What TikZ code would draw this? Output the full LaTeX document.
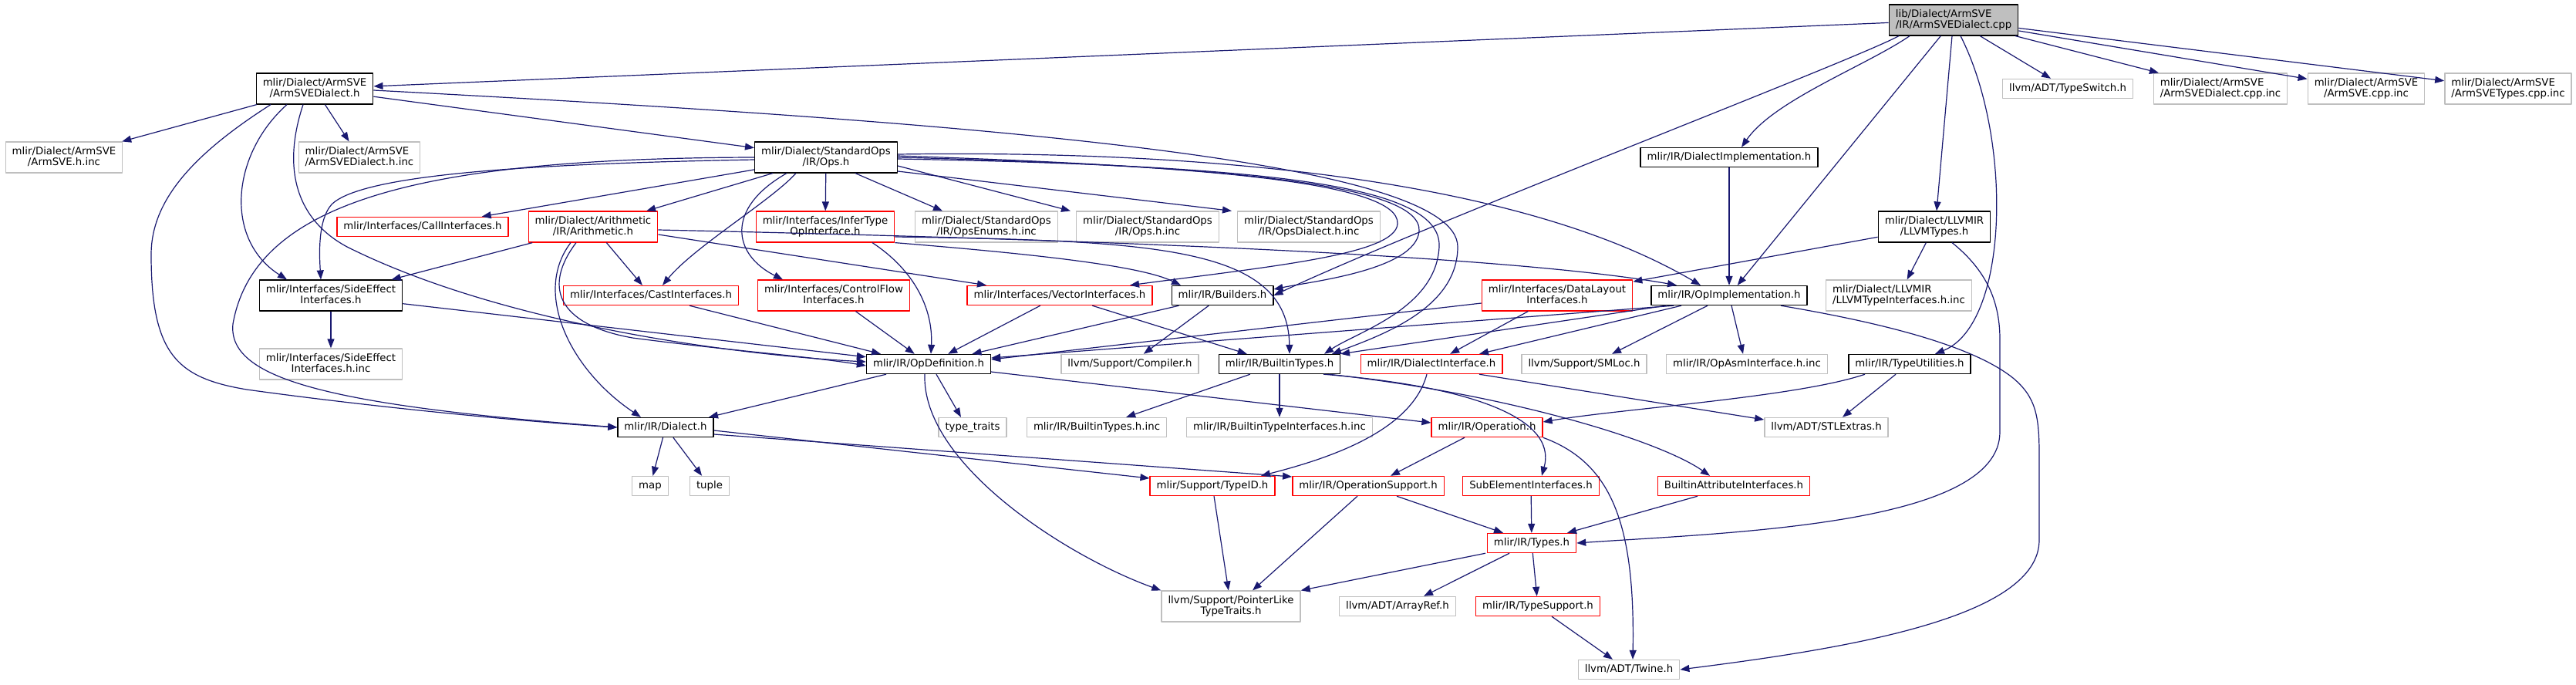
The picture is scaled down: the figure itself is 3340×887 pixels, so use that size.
\documentclass[tikz,border=0pt]{standalone}
\usepackage{fontspec}
\setmainfont{DejaVu Sans}
\usetikzlibrary{arrows.meta}

\definecolor{edgeblue}{HTML}{191970}
\definecolor{grey75}{HTML}{BFBFBF}

% two line label: first line left, second line centred
\newsavebox\lbla
\newsavebox\lblb
\newcommand\lbl[2]{%
  \sbox\lbla{\rule{0pt}{10pt}#1}%
  \sbox\lblb{\rule[-3pt]{0pt}{3pt}#2}%
  \ifdim\wd\lbla<\wd\lblb
    \sbox\lbla{\makebox[\wd\lblb][l]{\usebox\lbla}}%
  \else
    \sbox\lblb{\makebox[\wd\lbla][c]{\usebox\lblb}}%
  \fi
  \vbox{\copy\lbla\copy\lblb}}

\begin{document}
\begin{tikzpicture}[x=1pt, y=-1pt, font=\fontsize{13.3}{14.7}\selectfont, line join=round, >={Triangle[length=12pt,width=9pt]},
	fnode/.style={draw, rectangle, line width=1.4pt, inner xsep=8.5pt, inner ysep=6pt},
	oneline/.style={fnode, text height=10pt, text depth=3pt},
	twoline/.style={fnode},
	doc/.style={draw=black},
	trunc/.style={draw=red},
	sys/.style={draw=grey75},
	src/.style={draw=black, fill=grey75},
	incl/.style={->, draw=edgeblue, line width=1.2pt}]
	\useasboundingbox (0,0) rectangle (3340,887);

	% row 1
	\node[twoline, src] (cpp) at (2533,26) {\lbl{lib/Dialect/ArmSVE}{/IR/ArmSVEDialect.cpp}};
	% row 2
	\node[twoline, doc] (armdh) at (408,115) {\lbl{mlir/Dialect/ArmSVE}{/ArmSVEDialect.h}};
	\node[oneline, sys] (typeswitch) at (2681,115) {llvm/ADT/TypeSwitch.h};
	\node[twoline, sys] (armdcppinc) at (2879,115) {\lbl{mlir/Dialect/ArmSVE}{/ArmSVEDialect.cpp.inc}};
	\node[twoline, sys] (armcppinc) at (3068,115) {\lbl{mlir/Dialect/ArmSVE}{/ArmSVE.cpp.inc}};
	\node[twoline, sys] (armtcppinc) at (3252,115) {\lbl{mlir/Dialect/ArmSVE}{/ArmSVETypes.cpp.inc}};
	% row 3
	\node[twoline, sys] (armhinc) at (83,204) {\lbl{mlir/Dialect/ArmSVE}{/ArmSVE.h.inc}};
	\node[twoline, sys] (armdhinc) at (466,204) {\lbl{mlir/Dialect/ArmSVE}{/ArmSVEDialect.h.inc}};
	\node[twoline, doc] (ops) at (1071,204) {\lbl{mlir/Dialect/StandardOps}{/IR/Ops.h}};
	\node[oneline, doc] (dimpl) at (2242,204) {mlir/IR/DialectImplementation.h};
	% row 4
	\node[oneline, trunc] (callif) at (548,294) {mlir/Interfaces/CallInterfaces.h};
	\node[twoline, trunc] (arith) at (769,294) {\lbl{mlir/Dialect/Arithmetic}{/IR/Arithmetic.h}};
	\node[twoline, trunc] (infer) at (1070,294) {\lbl{mlir/Interfaces/InferType}{OpInterface.h}};
	\node[twoline, sys] (opsenums) at (1279,294) {\lbl{mlir/Dialect/StandardOps}{/IR/OpsEnums.h.inc}};
	\node[twoline, sys] (opsinc) at (1488,294) {\lbl{mlir/Dialect/StandardOps}{/IR/Ops.h.inc}};
	\node[twoline, sys] (opsdialinc) at (1697,294) {\lbl{mlir/Dialect/StandardOps}{/IR/OpsDialect.h.inc}};
	\node[twoline, doc] (llvmtypes) at (2508,294) {\lbl{mlir/Dialect/LLVMIR}{/LLVMTypes.h}};
	% row 5
	\node[twoline, doc] (sideeff) at (429,383) {\lbl{mlir/Interfaces/SideEffect}{Interfaces.h}};
	\node[oneline, trunc] (cast) at (844,383) {mlir/Interfaces/CastInterfaces.h};
	\node[twoline, trunc] (ctrlflow) at (1081,383) {\lbl{mlir/Interfaces/ControlFlow}{Interfaces.h}};
	\node[oneline, trunc] (vector) at (1374,383) {mlir/Interfaces/VectorInterfaces.h};
	\node[oneline, doc] (builders) at (1585,383) {mlir/IR/Builders.h};
	\node[twoline, trunc] (datalayout) at (2019,383) {\lbl{mlir/Interfaces/DataLayout}{Interfaces.h}};
	\node[oneline, doc] (opimpl) at (2242,383) {mlir/IR/OpImplementation.h};
	\node[twoline, sys] (llvmtiinc) at (2462,383) {\lbl{mlir/Dialect/LLVMIR}{/LLVMTypeInterfaces.h.inc}};
	% row 6
	\node[twoline, sys] (sideeffinc) at (429,472) {\lbl{mlir/Interfaces/SideEffect}{Interfaces.h.inc}};
	\node[oneline, doc] (opdef) at (1204,472) {mlir/IR/OpDefinition.h};
	\node[oneline, sys] (compiler) at (1465,472) {llvm/Support/Compiler.h};
	\node[oneline, doc] (builtintypes) at (1659,472) {mlir/IR/BuiltinTypes.h};
	\node[oneline, trunc] (dialectif) at (1856,472) {mlir/IR/DialectInterface.h};
	\node[oneline, sys] (smloc) at (2054,472) {llvm/Support/SMLoc.h};
	\node[oneline, sys] (opasminc) at (2265,472) {mlir/IR/OpAsmInterface.h.inc};
	\node[oneline, doc] (typeutil) at (2476,472) {mlir/IR/TypeUtilities.h};
	% row 7
	\node[oneline, doc] (dialect) at (863,554) {mlir/IR/Dialect.h};
	\node[oneline, sys] (typetraits) at (1261,554) {type\_traits};
	\node[oneline, sys] (builtintypesinc) at (1422,554) {mlir/IR/BuiltinTypes.h.inc};
	\node[oneline, sys] (builtintypeifinc) at (1659,554) {mlir/IR/BuiltinTypeInterfaces.h.inc};
	\node[oneline, trunc] (operation) at (1928,554) {mlir/IR/Operation.h};
	\node[oneline, sys] (stlextras) at (2368,554) {llvm/ADT/STLExtras.h};
	% row 8
	\node[oneline, sys] (map) at (843,630) {map};
	\node[oneline, sys] (tuple) at (920,630) {tuple};
	\node[oneline, trunc] (typeid) at (1572,630) {mlir/Support/TypeID.h};
	\node[oneline, trunc] (opsupport) at (1774,630) {mlir/IR/OperationSupport.h};
	\node[oneline, trunc] (subelem) at (1985,630) {SubElementInterfaces.h};
	\node[oneline, trunc] (builtinattr) at (2248,630) {BuiltinAttributeInterfaces.h};
	% row 9
	\node[oneline, trunc] (types) at (1986,704) {mlir/IR/Types.h};
	% row 10
	\node[twoline, sys] (pointerlike) at (1596,786) {\lbl{llvm/Support/PointerLike}{TypeTraits.h}};
	\node[oneline, sys] (arrayref) at (1812,786) {llvm/ADT/ArrayRef.h};
	\node[oneline, trunc] (typesupport) at (1994,786) {mlir/IR/TypeSupport.h};
	% row 11
	\node[oneline, sys] (twine) at (2112,868) {llvm/ADT/Twine.h};

	% includes of the source file
	\draw[incl] (cpp) -- (armdh);
	\draw[incl] (cpp) -- (typeswitch);
	\draw[incl] (cpp) -- (armdcppinc);
	\draw[incl] (cpp) -- (armcppinc);
	\draw[incl] (cpp) -- (armtcppinc);
	\draw[incl] ([xshift=-2pt]cpp.south) -- ([xshift=3pt]llvmtypes.north);
	\draw[incl] ([xshift=-57pt]cpp.south) .. controls (2420,85) and (2300,130) .. ([xshift=16pt]dimpl.north);
	\draw[incl] (cpp) -- (opimpl);
	\draw[incl] ([xshift=-71pt]cpp.south) .. controls (2400,80) and (1850,290) .. (builders.east);
	\draw[incl] ([xshift=9pt]cpp.south) .. controls (2610,180) and (2605,420) .. ([xshift=33pt]typeutil.north);

	% ArmSVEDialect.h
	\draw[incl] (armdh) -- (armhinc);
	\draw[incl] (armdh) -- (armdhinc);
	\draw[incl] (armdh) -- (ops);
	\draw[incl] ([xshift=-57pt]armdh.south) .. controls (250,200) and (196,260) .. (196,330) .. controls (196,460) and (230,490) .. (320,505) .. controls (500,530) and (700,548) .. (dialect.west);
	\draw[incl] ([xshift=-36pt]armdh.south) .. controls (300,200) and (290,310) .. ([xshift=-57pt]sideeff.north);
	\draw[incl] ([xshift=-15pt]armdh.south) .. controls (365,220) and (385,285) .. (450,320) .. controls (650,420) and (950,460) .. ([yshift=3pt]opdef.west);
	\draw[incl] ([yshift=-2pt]armdh.east) .. controls (1300,160) and (1890,210) .. (1890,320) .. controls (1890,400) and (1790,435) .. ([xshift=68pt]builtintypes.north);

	% Ops.h
	\draw[incl] (ops) -- (callif);
	\draw[incl] (ops) -- (arith);
	\draw[incl] (ops) -- (infer);
	\draw[incl] ([xshift=38pt]ops.south) -- ([xshift=-57pt]opsenums.north);
	\draw[incl] ([yshift=-11pt]ops.east) -- ([xshift=-100pt]opsinc.north);
	\draw[incl] ([yshift=-18pt]ops.east) -- ([xshift=-100pt]opsdialinc.north);
	\draw[incl] (ops.west) .. controls (550,205) and (330,260) .. (302,420) .. controls (295,490) and (420,525) .. (dialect.west);
	\draw[incl] ([yshift=-3pt]ops.west) .. controls (700,212) and (470,225) .. (430,265) .. controls (412,285) and (414,330) .. ([xshift=-13pt]sideeff.north);
	\draw[incl] ([xshift=-39pt]ops.south) .. controls (1000,260) and (900,320) .. ([xshift=15pt]cast.north);
	\draw[incl] ([xshift=-51pt]ops.south) .. controls (940,270) and (950,330) .. ([xshift=-66pt]ctrlflow.north);
	\draw[incl] ([yshift=2pt]ops.east) .. controls (1550,215) and (1815,235) .. (1812,290) .. controls (1810,330) and (1650,345) .. ([xshift=91pt]vector.north);
	\draw[incl] (ops.east) .. controls (1600,215) and (1845,240) .. (1840,300) .. controls (1835,350) and (1700,365) .. ([yshift=8pt]builders.east);
	\draw[incl] ([yshift=-2pt]ops.east) .. controls (1650,215) and (1870,240) .. (1866,320) .. controls (1862,400) and (1760,430) .. ([xshift=58pt]builtintypes.north);
	\draw[incl] ([yshift=4pt]ops.east) .. controls (1500,195) and (1950,220) .. ([xshift=-37pt]opimpl.north);

	% Arithmetic.h
	\draw[incl] (arith) -- (sideeff);
	\draw[incl] (arith) -- (cast);
	\draw[incl] ([xshift=-29pt]arith.south) .. controls (690,380) and (740,480) .. ([xshift=-32pt]dialect.north);
	\draw[incl] ([xshift=-22pt]arith.south) .. controls (705,370) and (720,420) .. (820,438) .. controls (950,455) and (1050,462) .. ([yshift=-2pt]opdef.west);
	\draw[incl] ([yshift=-10pt]arith.east) -- ([xshift=-95pt]vector.north);
	\draw[incl] ([yshift=-4pt]arith.east) .. controls (1400,310) and (1950,330) .. ([xshift=-68pt]opimpl.north);

	% InferTypeOpInterface.h
	\draw[incl] ([xshift=61pt]infer.south) .. controls (1185,350) and (1210,400) .. ([xshift=3pt]opdef.north);
	\draw[incl] (infer.south east) .. controls (1350,330) and (1480,345) .. ([xshift=-54pt]builders.north);
	\draw[incl] ([yshift=-13pt]infer.east) .. controls (1500,312) and (1670,320) .. ([xshift=13pt]builtintypes.north);

	% interfaces row
	\draw[incl] (sideeff) -- (sideeffinc);
	\draw[incl] (sideeff) -- (opdef);
	\draw[incl] ([xshift=50pt]cast.south) -- ([xshift=-62pt]opdef.north);
	\draw[incl] (ctrlflow) -- (opdef);
	\draw[incl] (vector) -- (opdef);
	\draw[incl] (vector) -- (builtintypes);
	\draw[incl] (builders) -- (opdef);
	\draw[incl] (builders) -- (compiler);
	\draw[incl] ([yshift=-10pt]datalayout.west) -- ([yshift=6pt]opdef.east);
	\draw[incl] (datalayout) -- (dialectif);

	% OpImplementation.h
	\draw[incl] (dimpl) -- (opimpl);
	\draw[incl] ([xshift=-72pt]opimpl.south) -- ([yshift=8pt]opdef.east);
	\draw[incl] ([xshift=-82pt]opimpl.south) -- ([xshift=79pt]builtintypes.north);
	\draw[incl] ([xshift=-62pt]opimpl.south) -- ([xshift=62pt]dialectif.north);
	\draw[incl] ([xshift=-28pt]opimpl.south) -- ([xshift=36pt]smloc.north);
	\draw[incl] ([xshift=3pt]opimpl.south) -- ([xshift=-5pt]opasminc.north);
	\draw[incl] ([xshift=67pt]opimpl.south) .. controls (2450,420) and (2560,450) .. (2610,490) .. controls (2640,515) and (2644,540) .. (2644,590) -- (2644,700) .. controls (2644,800) and (2400,840) .. (twine.east);

	% LLVMTypes.h
	\draw[incl] (llvmtypes) -- (datalayout);
	\draw[incl] (llvmtypes) -- (llvmtiinc);
	\draw[incl] ([xshift=23pt]llvmtypes.south) .. controls (2575,350) and (2593,390) .. (2593,440) -- (2593,560) .. controls (2593,680) and (2250,690) .. (types.east);

	% TypeUtilities.h, DialectInterface.h
	\draw[incl] ([xshift=-58pt]typeutil.south) .. controls (2330,515) and (2100,530) .. ([yshift=7pt]operation.east);
	\draw[incl] ([xshift=-18pt]typeutil.south) -- ([xshift=21pt]stlextras.north);
	\draw[incl] ([xshift=-6pt]dialectif.south) .. controls (1830,560) and (1720,595) .. ([xshift=63pt]typeid.north);
	\draw[incl] ([xshift=62pt]dialectif.south) -- ([yshift=10pt]stlextras.west);

	% OpDefinition.h
	\draw[incl] ([xshift=-55pt]opdef.south) -- ([xshift=56pt]dialect.north);
	\draw[incl] ([xshift=10pt]opdef.south) -- ([xshift=-15pt]typetraits.north);
	\draw[incl] ([yshift=-10pt]opdef.east) -- ([yshift=6pt]operation.west);
	\draw[incl] ([xshift=-5pt]opdef.south) .. controls (1195,600) and (1380,720) .. (pointerlike.north west);

	% BuiltinTypes.h
	\draw[incl] (builtintypes) -- (builtintypesinc);
	\draw[incl] (builtintypes) -- (builtintypeifinc);
	\draw[incl] ([xshift=57pt]builtintypes.south) .. controls (1900,500) and (2020,540) .. ([xshift=14pt]subelem.north);
	\draw[incl] ([xshift=64pt]builtintypes.south) .. controls (1950,510) and (2150,570) .. ([xshift=-31pt]builtinattr.north);

	% Dialect.h, Operation.h
	\draw[incl] (dialect) -- (map);
	\draw[incl] (dialect) -- (tuple);
	\draw[incl] ([yshift=-4pt]dialect.east) -- ([yshift=10pt]typeid.west);
	\draw[incl] ([yshift=-9pt]dialect.east) -- ([yshift=12pt]opsupport.west);
	\draw[incl] ([xshift=-29pt]operation.south) -- ([xshift=29pt]opsupport.north);
	\draw[incl] (operation.south east) .. controls (2090,600) and (2120,680) .. ([xshift=5pt]twine.north);

	% bottom part
	\draw[incl] (typeid) -- (pointerlike);
	\draw[incl] ([xshift=-14pt]opsupport.south) -- ([xshift=28pt]pointerlike.north);
	\draw[incl] ([xshift=37pt]opsupport.south) -- ([xshift=-37pt]types.north);
	\draw[incl] (subelem) -- (types);
	\draw[incl] ([xshift=-47pt]builtinattr.south) -- ([xshift=46pt]types.north);
	\draw[incl] ([xshift=-60pt]types.south) -- (pointerlike.north east);
	\draw[incl] ([xshift=-29pt]types.south) -- ([xshift=34pt]arrayref.north);
	\draw[incl] (types) -- (typesupport);
	\draw[incl] ([xshift=18pt]typesupport.south) -- ([xshift=-21pt]twine.north);
\end{tikzpicture}
\end{document}
